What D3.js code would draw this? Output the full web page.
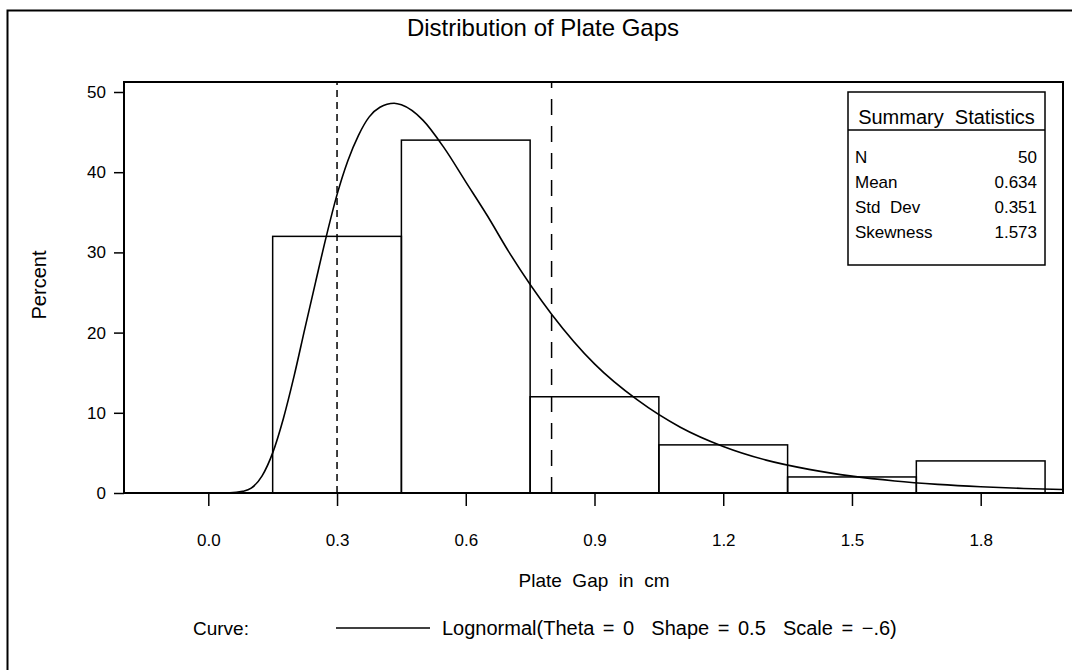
<!DOCTYPE html>
<html>
<head>
<meta charset="utf-8">
<script src="https://cdn.jsdelivr.net/npm/d3@7"></script>
<style>
  body { margin: 0; background: #fff; }
  text { font-family: "Liberation Sans", Arial, sans-serif; fill: #000; }
</style>
</head>
<body>
<div id="chart"></div>
<script>
// histogram bins (midpoints) and percents
const binMids = [0.3, 0.6, 0.9, 1.2, 1.5, 1.8];
const binPercents = [32, 44, 12, 6, 2, 4];
const binWidth = 0.3;

// fitted lognormal curve
const curveX = [-0.195, 0.0, 0.05, 0.08, 0.1, 0.125, 0.15, 0.175, 0.2, 0.225, 0.25, 0.275, 0.3, 0.325, 0.35, 0.375, 0.4, 0.433, 0.45, 0.5, 0.55, 0.6, 0.65, 0.7, 0.8, 0.9, 1.0, 1.1, 1.2, 1.3, 1.4, 1.5, 1.6, 1.7, 1.8, 1.9, 1.99];
const curveY = [0, 0, 0.01, 0.2, 0.6, 2.1, 5.0, 9.3, 14.6, 20.5, 26.3, 32.0, 37.2, 41.4, 44.6, 46.9, 48.1, 48.6, 48.4, 46.5, 43.0, 38.8, 34.6, 30.1, 22.3, 16.1, 11.6, 8.2, 5.8, 4.1, 2.95, 2.1, 1.5, 1.08, 0.78, 0.57, 0.44];

// reference lines
const refLines = [{ x: 0.3, dash: "7,5" }, { x: 0.8, dash: "16,11" }];

const xTicks = [0.0, 0.3, 0.6, 0.9, 1.2, 1.5, 1.8];
const yTicks = [0, 10, 20, 30, 40, 50];

const statLabels = ["N", "Mean", "Std  Dev", "Skewness"];
const statValues = ["50", "0.634", "0.351", "1.573"];

const svgWidth = 1072, svgHeight = 670;
const plot = { left: 124, right: 1063, top: 82, bottom: 493 };

const svg = d3.select("#chart").append("svg").
  attr("width", svgWidth).
  attr("height", svgHeight);

// outer frame (runs off the page right and bottom)
svg.append("rect").
  attr("x", 7.5).attr("y", 10.5).
  attr("width", 1100).attr("height", 700).
  attr("fill", "none").attr("stroke", "#000").attr("stroke-width", 2);

const x = d3.scaleLinear().domain([0, 1.8]).range([208.3, 980.7]);
const y = d3.scaleLinear().domain([0, 50]).range([plot.bottom, 92]);

// title
svg.append("text").
  attr("x", 543).attr("y", 36).
  attr("text-anchor", "middle").
  attr("font-size", 24).
  text("Distribution of Plate Gaps");

const g = svg.append("g");

// bars
g.selectAll("rect.bar").
  data(binMids).
  join("rect").
  attr("class", "bar").
  attr("x", d => x(d - binWidth / 2)).
  attr("width", d => x(d + binWidth / 2) - x(d - binWidth / 2)).
  attr("y", (d, i) => y(binPercents[i])).
  attr("height", (d, i) => y(0) - y(binPercents[i])).
  attr("fill", "none").
  attr("stroke", "#000").
  attr("stroke-width", 1.5);

// reference lines
g.selectAll("line.ref").
  data(refLines).
  join("line").
  attr("x1", d => x(d.x)).attr("x2", d => x(d.x)).
  attr("y1", plot.bottom).attr("y2", plot.top).
  attr("stroke", "#000").
  attr("stroke-width", 1.5).
  attr("stroke-dasharray", d => d.dash);

// curve
const line = d3.line().
  x(d => x(d[0])).
  y(d => y(d[1])).
  curve(d3.curveMonotoneX);

g.append("path").
  datum(curveX.map((v, i) => [v, curveY[i]])).
  attr("d", line).
  attr("fill", "none").
  attr("stroke", "#000").
  attr("stroke-width", 1.6);

// plot frame
svg.append("rect").
  attr("x", plot.left).attr("y", plot.top).
  attr("width", plot.right - plot.left).
  attr("height", plot.bottom - plot.top).
  attr("fill", "none").attr("stroke", "#000").attr("stroke-width", 2);

// axes
const xAxis = svg.append("g").
  attr("transform", `translate(0,${plot.bottom})`).
  call(d3.axisBottom(x).tickValues(xTicks).tickFormat(d3.format(".1f")).tickSize(13).tickPadding(28));
const yAxis = svg.append("g").
  attr("transform", `translate(${plot.left},0)`).
  call(d3.axisLeft(y).tickValues(yTicks).tickSize(10).tickPadding(8));

[xAxis, yAxis].forEach(a => {
  a.select(".domain").remove();
  a.selectAll("line").attr("stroke", "#000").attr("stroke-width", 1.5);
  a.selectAll("text").
    attr("font-size", 17).
    attr("font-family", "Liberation Sans, Arial, sans-serif");
});

// axis labels
svg.append("text").
  attr("transform", "translate(46,285) rotate(-90)").
  attr("text-anchor", "middle").
  attr("font-size", 20).
  text("Percent");

svg.append("text").
  attr("x", 594).attr("y", 587).
  attr("text-anchor", "middle").
  attr("font-size", 19).
  attr("xml:space", "preserve").
  text("Plate  Gap  in  cm");

// legend
svg.append("text").
  attr("x", 193).attr("y", 635).
  attr("font-size", 19).
  text("Curve:");
svg.append("line").
  attr("x1", 336).attr("x2", 430).
  attr("y1", 628).attr("y2", 628).
  attr("stroke", "#000").attr("stroke-width", 1.5);
svg.append("text").
  attr("x", 442).attr("y", 635).
  attr("font-size", 20).
  attr("word-spacing", 3).
  attr("xml:space", "preserve").
  text("Lognormal(Theta = 0  Shape = 0.5  Scale = \u2212.6)");

// summary statistics inset
const inset = { left: 848, right: 1045, top: 92, bottom: 265, sep: 130 };
const ins = svg.append("g");
ins.append("rect").
  attr("x", inset.left).attr("y", inset.top).
  attr("width", inset.right - inset.left).
  attr("height", inset.bottom - inset.top).
  attr("fill", "#fff").attr("stroke", "#000").attr("stroke-width", 1.5);
ins.append("line").
  attr("x1", inset.left).attr("x2", inset.right).
  attr("y1", inset.sep).attr("y2", inset.sep).
  attr("stroke", "#000").attr("stroke-width", 1.5);
ins.append("text").
  attr("x", (inset.left + inset.right) / 2).attr("y", 124).
  attr("text-anchor", "middle").
  attr("font-size", 20).
  attr("xml:space", "preserve").
  text("Summary  Statistics");

const rowY = d3.scalePoint().domain(statLabels).range([163, 238]);
ins.selectAll("text.lab").
  data(statLabels).
  join("text").
  attr("class", "lab").
  attr("x", inset.left + 7).
  attr("y", d => rowY(d)).
  attr("font-size", 17).
  attr("xml:space", "preserve").
  text(d => d);
ins.selectAll("text.val").
  data(statValues).
  join("text").
  attr("class", "val").
  attr("x", inset.right - 8).
  attr("y", (d, i) => rowY(statLabels[i])).
  attr("text-anchor", "end").
  attr("font-size", 17).
  text(d => d);
</script>
</body>
</html>
